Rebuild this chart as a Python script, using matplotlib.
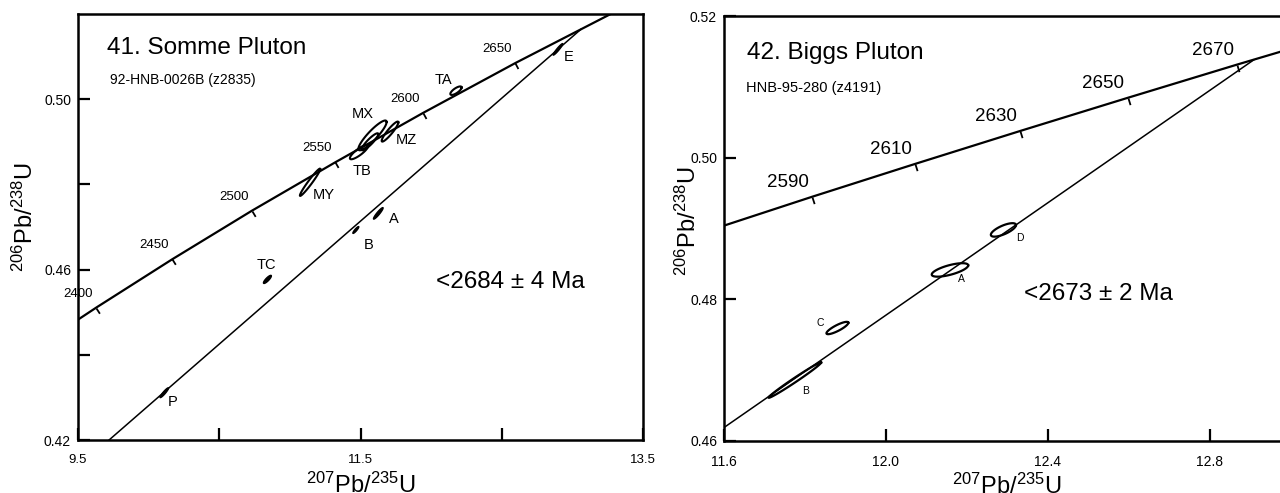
import numpy as np
import matplotlib
matplotlib.use("Agg")
import matplotlib.pyplot as plt
from matplotlib.markers import MarkerStyle
from matplotlib.path import Path
from matplotlib.transforms import Affine2D

plt.rcParams['font.family'] = ['Liberation Sans', 'DejaVu Sans']
plt.rcParams['mathtext.fontset'] = 'custom'
plt.rcParams['mathtext.rm'] = 'Liberation Sans'
plt.rcParams['mathtext.it'] = 'Liberation Sans:italic'
plt.rcParams['mathtext.bf'] = 'Liberation Sans:bold'

# %% Data: 41. Somme Pluton

somme_conc_ages = [2350, 2400, 2450, 2500, 2550, 2600, 2650, 2700]
somme_conc_x = [9.119, 9.630, 10.166, 10.730, 11.322, 11.944, 12.597, 13.283]
somme_conc_y = [0.4399, 0.4511, 0.4624, 0.4738, 0.4852, 0.4968, 0.5085, 0.5202]
somme_tick_ages = [2400, 2450, 2500, 2550, 2600, 2650]

somme_disc_x = [9.72, 13.060]
somme_disc_y = [0.42, 0.5164]

# "" = unlabelled ellipse inside the MX cluster
somme_names = ["P", "TC", "B", "A", "MY", "TB", "", "MX", "MZ", "TA", "E"]
somme_x = [10.111, 10.841, 11.467, 11.626, 11.143, 11.490, 11.567, 11.585, 11.709, 12.176, 12.898]
somme_y = [0.4311, 0.4577, 0.4693, 0.4732, 0.4805, 0.4876, 0.4900, 0.4915, 0.4924, 0.5020, 0.5117]
somme_sx = [0.030, 0.028, 0.021, 0.034, 0.072, 0.065, 0.059, 0.100, 0.059, 0.040, 0.034]
somme_sy = [0.00115, 0.00095, 0.0008, 0.00135, 0.0032, 0.0017, 0.0020, 0.0035, 0.00235, 0.0010, 0.00135]
somme_rho = [0.93, 0.85, 0.90, 0.93, 0.97, 0.85, 0.90, 0.90, 0.92, 0.75, 0.95]
somme_filled = [True, True, True, True, False, False, False, False, False, False, True]

# %% Data: 42. Biggs Pluton

biggs_conc_ages = [2550, 2590, 2610, 2630, 2650, 2670, 2700]
biggs_conc_x = [11.322, 11.817, 12.072, 12.332, 12.597, 12.867, 13.283]
biggs_conc_y = [0.4852, 0.49447, 0.49912, 0.50378, 0.50845, 0.51314, 0.52019]
biggs_tick_ages = [2590, 2610, 2630, 2650, 2670]

biggs_disc_x = [11.6, 12.908]
biggs_disc_y = [0.4619, 0.5138]

biggs_names = ["B", "C", "A", "D"]
biggs_x = [11.775, 11.880, 12.158, 12.290]
biggs_y = [0.4686, 0.47595, 0.48415, 0.4898]
biggs_sx = [0.065, 0.027, 0.045, 0.031]
biggs_sy = [0.0025, 0.00087, 0.00095, 0.00095]
biggs_rho = [0.99, 0.85, 0.68, 0.72]


# %% Helpers

def ellipse_xy(x, y, sx, sy, rho, n=120):
    t = np.linspace(0, 2 * np.pi, n)
    cov = np.array([[sx ** 2, rho * sx * sy], [rho * sx * sy, sy ** 2]])
    L = np.linalg.cholesky(cov)
    pts = L @ np.vstack([np.cos(t), np.sin(t)])
    return x + pts[0], y + pts[1]


def concordia(ax, cx, cy, ages, tick_ages, fs, lab_off, ms):
    ax.plot(cx, cy, color="black", lw=1.6, solid_capstyle="butt", zorder=3)
    disp = ax.transData.transform(np.column_stack([cx, cy]))
    for i, age in enumerate(ages):
        if age not in tick_ages:
            continue
        d = disp[i + 1] - disp[i - 1]
        ang = np.degrees(np.arctan2(d[1], d[0]))
        m = MarkerStyle(Path([(0, 0), (0, -1)]), transform=Affine2D().rotate_deg(ang))
        ax.plot(cx[i], cy[i], marker=m, ms=ms, mew=1.3, mec="black", mfc="none",
                zorder=3, clip_on=False)
        ax.annotate(str(age), (cx[i], cy[i]), xytext=lab_off, textcoords="offset points",
                    ha="center", va="center", fontsize=fs, annotation_clip=False)


def style_axes(ax, xpad, xfs, yfs):
    for s in ax.spines.values():
        s.set_linewidth(1.8)
    ax.tick_params(axis="both", direction="in", length=8.5, width=1.6, colors="black")
    ax.tick_params(axis="x", pad=xpad, labelsize=xfs)
    ax.tick_params(axis="y", pad=5, labelsize=yfs)


fig = plt.figure(figsize=(12.8, 4.93), dpi=100)

# %% Left panel

axL = fig.add_axes([78 / 1280, 53 / 493, 565 / 1280, 426 / 493])
axL.set_xlim(9.5, 13.5)
axL.set_ylim(0.42, 0.52)
axL.set_xticks([9.5, 10.5, 11.5, 12.5, 13.5])
axL.set_xticklabels(["9.5", "", "11.5", "", "13.5"])
axL.set_yticks([0.42, 0.44, 0.46, 0.48, 0.50])
axL.set_yticklabels(["0.42", "", "0.46", "", "0.50"])
style_axes(axL, 10, 9.5, 10)

axL.plot(somme_disc_x, somme_disc_y, color="black", lw=1.1, zorder=2)
concordia(axL, somme_conc_x, somme_conc_y, somme_conc_ages, somme_tick_ages, 9.5, (-13, 10), 9)

somme_lab_off = [(6, -7), (-0.5, 10.5), (9, -10.5), (11.5, -4), (10, -9),
                 (2, -14), (0, 0), (-7, 15.5), (12, -6), (-9, 7.5), (7.5, -5.5)]
for i, name in enumerate(somme_names):
    ex, ey = ellipse_xy(somme_x[i], somme_y[i], somme_sx[i], somme_sy[i], somme_rho[i])
    if somme_filled[i]:
        axL.fill(ex, ey, color="black", lw=1.0, zorder=4)
    else:
        axL.plot(ex, ey, color="black", lw=1.5, zorder=4)
    if name:
        axL.annotate(name, (somme_x[i], somme_y[i]), xytext=somme_lab_off[i],
                     textcoords="offset points", ha="center", va="center", fontsize=10.5)

axL.text(0.052, 0.92, "41. Somme Pluton", transform=axL.transAxes, fontsize=17.5,
         ha="left", va="center")
axL.text(0.056, 0.845, "92-HNB-0026B (z2835)", transform=axL.transAxes, fontsize=10,
         ha="left", va="center")
axL.text(0.634, 0.372, "<2684 ± 4 Ma", transform=axL.transAxes, fontsize=17.5,
         ha="left", va="center")

axL.set_xlabel(r"$^{207}$Pb/$^{235}$U", fontsize=17)
axL.set_ylabel(r"$^{206}$Pb/$^{238}$U", fontsize=17)
axL.xaxis.set_label_coords(0.5, -0.076)
axL.yaxis.set_label_coords(-0.071, 0.523)

# %% Right panel

axR = fig.add_axes([724 / 1280, 52 / 493, 556 / 1280, 425 / 493])
axR.set_xlim(11.6, 12.973)
axR.set_ylim(0.46, 0.52)
axR.set_xticks([11.6, 12.0, 12.4, 12.8])
axR.set_xticklabels(["11.6", "12.0", "12.4", "12.8"])
axR.set_yticks([0.46, 0.48, 0.50, 0.52])
axR.set_yticklabels(["0.46", "0.48", "0.50", "0.52"])
style_axes(axR, 10, 10, 10)
axR.spines["right"].set_visible(False)

axR.plot(biggs_disc_x, biggs_disc_y, color="black", lw=1.1, zorder=2)
concordia(axR, biggs_conc_x, biggs_conc_y, biggs_conc_ages, biggs_tick_ages, 13.5, (-17.5, 10.5), 10)

biggs_lab_off = [(7.5, -8), (-12.5, 3.5), (8, -6.5), (11.5, -5.5)]
for i, name in enumerate(biggs_names):
    ex, ey = ellipse_xy(biggs_x[i], biggs_y[i], biggs_sx[i], biggs_sy[i], biggs_rho[i])
    axR.plot(ex, ey, color="black", lw=1.6, zorder=4)
    axR.annotate(name, (biggs_x[i], biggs_y[i]), xytext=biggs_lab_off[i],
                 textcoords="offset points", ha="center", va="center", fontsize=7.5)

axR.text(0.0415, 0.913, "42. Biggs Pluton", transform=axR.transAxes, fontsize=17.5,
         ha="left", va="center")
axR.text(0.040, 0.830, "HNB-95-280 (z4191)", transform=axR.transAxes, fontsize=10.5,
         ha="left", va="center")
axR.text(0.54, 0.347, "<2673 ± 2 Ma", transform=axR.transAxes, fontsize=17.5,
         ha="left", va="center")

axR.set_xlabel(r"$^{207}$Pb/$^{235}$U", fontsize=17)
axR.set_ylabel(r"$^{206}$Pb/$^{238}$U", fontsize=17)
axR.xaxis.set_label_coords(0.509, -0.078)
axR.yaxis.set_label_coords(-0.041, 0.518)

fig.savefig("out.png", dpi=100)
